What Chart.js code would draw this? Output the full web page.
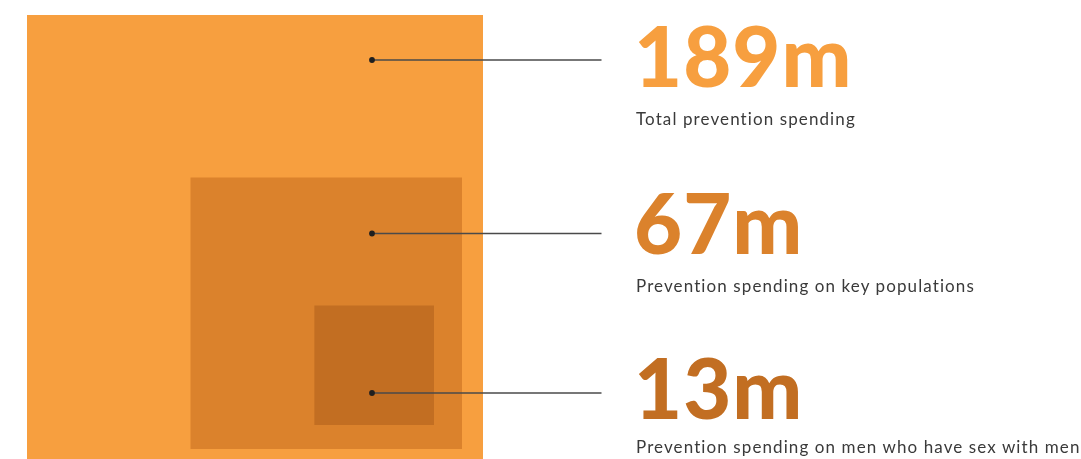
<!DOCTYPE html>
<html>
<head>
<meta charset="utf-8">
<script src="https://cdn.jsdelivr.net/npm/chart.js@4"></script>
<style>
  html, body { margin: 0; padding: 0; background: #ffffff; overflow: hidden; }
  #wrap { position: relative; width: 1081px; height: 459px; }
  #wrap canvas { position: absolute; left: 0; top: 0; }
  .num { position: absolute; left: 634px; font-family: Lato, "Open Sans", sans-serif; font-weight: 900; font-size: 83px; line-height: 1; white-space: nowrap; letter-spacing: 1px; }
  .lbl { position: absolute; left: 636px; font-family: Lato, "Open Sans", sans-serif; font-weight: 400; font-size: 17px; line-height: 1; color: #3a3a3a; white-space: nowrap; letter-spacing: 1.1px; }
</style>
</head>
<body>
<div id="wrap">
  <canvas id="c" width="1081" height="459"></canvas>
</div>
<script>
// ---- data ----
const categories = [
  'Total prevention spending',
  'Prevention spending on key populations',
  'Prevention spending on men who have sex with men'
];
const values = [189, 67, 13];            // US$ millions
const valueLabels = ['189m', '67m', '13m'];

// ---- styles ----
const fillColors = ['#F79F3F', '#DB822C', '#C26E22'];
const textColors = ['#F79F3F', '#DB822C', '#C26E22'];

// ---- layout (in sqrt-million units; square side = sqrt(value)) ----
const PX_PER_UNIT = 456 / Math.sqrt(189);
const X_MAX = 1081 / PX_PER_UNIT;
const Y_MAX = 459 / PX_PER_UNIT;
const outerLeft = 27 / PX_PER_UNIT;
const outerTop = 15 / PX_PER_UNIT;
const insetRight = [0, 21 / PX_PER_UNIT, 28 / PX_PER_UNIT];   // inset from parent's right edge
const insetBottom = [0, 22 / PX_PER_UNIT, 24 / PX_PER_UNIT];  // inset from parent's bottom edge
const dotX = 372 / PX_PER_UNIT;
const lineEndX = 601.5 / PX_PER_UNIT;
const dotY = [60 / PX_PER_UNIT, 233.5 / PX_PER_UNIT, 393 / PX_PER_UNIT];
const numTops = [14, 181, 346];
const lblTops = [109.5, 277, 437.5];

// build square polygons from values
const squares = [];
let prev = null;
values.forEach((v, i) => {
  const side = Math.sqrt(v);
  let right, bottom;
  if (!prev) {
    right = outerLeft + side;
    bottom = outerTop + side;
  } else {
    right = prev.right - insetRight[i];
    bottom = prev.bottom - insetBottom[i];
  }
  const left = right - side, top = bottom - side;
  prev = { left, right, top, bottom };
  squares.push(prev);
});

const datasets = [];
squares.forEach((s, i) => {
  datasets.push({
    type: 'line',
    label: categories[i],
    data: [
      { x: s.left, y: s.top }, { x: s.right, y: s.top },
      { x: s.right, y: s.bottom }, { x: s.left, y: s.bottom }, { x: s.left, y: s.top }
    ],
    fill: 'shape',
    backgroundColor: fillColors[i],
    borderWidth: 0,
    borderColor: 'rgba(0,0,0,0)',
    pointRadius: 0,
    pointHoverRadius: 0,
    tension: 0,
    order: 10 - i
  });
});
values.forEach((v, i) => {
  datasets.push({
    type: 'line',
    label: 'leader ' + i,
    data: [{ x: dotX, y: dotY[i] }, { x: lineEndX, y: dotY[i] }],
    fill: false,
    borderColor: '#4a4a4a',
    borderWidth: 1.3,
    pointRadius: [2.9, 0],
    pointHoverRadius: 0,
    pointBackgroundColor: '#1f1f1f',
    pointBorderWidth: 0,
    order: 0
  });
});

new Chart(document.getElementById('c'), {
  type: 'line',
  data: { datasets },
  options: {
    responsive: false,
    animation: false,
    events: [],
    layout: { padding: 0, autoPadding: false },
    plugins: { legend: { display: false }, tooltip: { enabled: false } },
    scales: {
      x: { type: 'linear', min: 0, max: X_MAX, display: false },
      y: { type: 'linear', min: 0, max: Y_MAX, reverse: true, display: false }
    }
  }
});

// text annotations
const wrap = document.getElementById('wrap');
values.forEach((v, i) => {
  const n = document.createElement('div');
  n.className = 'num';
  n.style.top = numTops[i] + 'px';
  n.style.color = textColors[i];
  n.textContent = valueLabels[i];
  wrap.appendChild(n);
  const l = document.createElement('div');
  l.className = 'lbl';
  l.style.top = lblTops[i] + 'px';
  l.textContent = categories[i];
  wrap.appendChild(l);
});
</script>
</body>
</html>
